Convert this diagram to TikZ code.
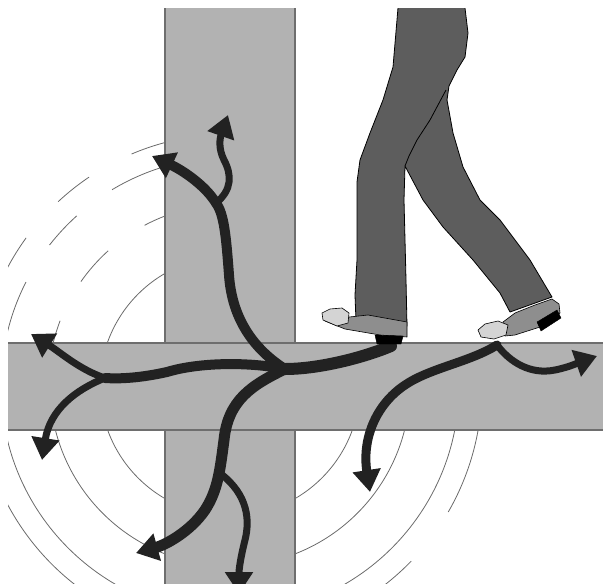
\documentclass[tikz,border=0pt]{standalone}
\usepackage{tikz}
\usetikzlibrary{arrows.meta, calc, positioning}
\definecolor{beamgray}{HTML}{B2B2B2}
\definecolor{beamedge}{HTML}{6E6E6E}
\definecolor{ripplegray}{HTML}{6A6A6A}
\definecolor{pantsgray}{HTML}{5D5D5D}
\definecolor{shoegray}{HTML}{8E8E8E}
\definecolor{toegray}{HTML}{D4D4D4}
\definecolor{flowblack}{HTML}{222222}
\tikzset
{%
beam/.style={fill=beamgray, draw=beamedge, line width=1.1pt},
ripple/.style={draw=ripplegray, line width=0.8pt},
trouser/.style={fill=pantsgray, draw=black, line width=0.8pt, line join=round},
shoe/.style={fill=shoegray, draw=black, line width=0.6pt, line join=round},
toecap/.style={fill=toegray, draw=black, line width=0.6pt, line join=round},
heelblock/.style={fill=black, draw=black, line width=0.4pt},
flow/.style={draw=flowblack, line width=#1, line cap=round,
	-{Triangle[length=22pt, width=27pt]}}
}
\begin{document}
\begin{tikzpicture}[x=1pt, y=-1pt]
	\useasboundingbox (0,0) rectangle (603,584);
	\clip (8,8) rectangle (603,584);

		% [RIPPLES]
		\coordinate (centre) at (230,386);
		% solid rings below the floor beam
		\foreach \r in {130,180,229}
			\draw[ripple] (centre) ++(0:\r) arc[start angle=0, end angle=180, radius=\r];
		\draw[ripple] (centre) ++(180:130) arc[start angle=180, end angle=270, radius=130];
		% broken rings
		\foreach \r/\a/\b in {182/188/201, 182/215/228, 182/242/256,
			229/188/207, 229/218/228, 229/239/256,
			252/200/216, 252/227/236, 252/247/258,
			252/5/30, 252/44/60, 252/120/160}
			\draw[ripple] (centre) ++(\a:\r) arc[start angle=\a, end angle=\b, radius=\r];

		% [BEAMS]
		\draw[beam] (165,-10) rectangle (295,600);
		\draw[beam] (-10,343) rectangle (620,430);

		% [ARROWS]
		\coordinate (heel) at (391,346);
		\coordinate (toe) at (497,345);
		\coordinate (hub) at (285,369);
		\coordinate (fork) at (105,378);
		\coordinate (knot) at (216,203);
		\coordinate (kink) at (221,474);

		% from the back foot
		\draw[flow=12pt, -] (heel) .. controls (365,357) and (320,369) .. (hub);
		\draw[flow=10pt] (hub) .. controls (255,350) and (232,320) .. (229,275)
			.. controls (226,235) and (224,214) .. (knot)
			.. controls (205,185) and (182,170) .. (152,156);
		\draw[flow=7pt] (knot) .. controls (232,190) and (232,175) .. (224,160)
			.. controls (218,148) and (220,138) .. (228,115);
		\draw[flow=10pt, -] (hub) .. controls (250,362) and (200,362) .. (167,372)
			.. controls (140,378) and (120,379) .. (fork);
		\draw[flow=7pt] (fork) .. controls (80,370) and (60,352) .. (31,334);
		\draw[flow=7pt] (fork) .. controls (75,390) and (50,410) .. (42,460);
		\draw[flow=11pt] (hub) .. controls (252,385) and (228,400) .. (224,440)
			.. controls (220,470) and (218,490) .. (205,510)
			.. controls (190,532) and (165,545) .. (136,553);
		\draw[flow=7pt] (kink) .. controls (248,495) and (250,520) .. (245,540)
			.. controls (240,560) and (239,570) .. (239,594);

		% from the front foot
		\draw[flow=9pt] (toe) .. controls (470,362) and (430,368) .. (405,385)
			.. controls (375,405) and (362,440) .. (370,492);
		\draw[flow=7pt] (toe) .. controls (510,362) and (530,375) .. (555,370)
			.. controls (570,367) and (580,362) .. (597,356);

		% [LEGS]
		\draw[trouser] (398,0) -- (398,8) -- (393,67) -- (383,100) -- (370,133)
			-- (360,160) -- (357,182) -- (357,260) -- (355,295) -- (356,321)
			-- (407,326) -- (406,280) -- (404,200) -- (405,166) -- (423,200)
			-- (443,227) -- (473,260) -- (500,293) -- (510,312) -- (552,297)
			-- (530,260) -- (500,220) -- (480,200) -- (463,167) -- (453,133)
			-- (447,100) -- (449,86) -- (457,70) -- (465,57) -- (468,33)
			-- (465,8) -- (465,0) -- cycle;
		\draw[black, line width=0.8pt] (405,166) -- (409,156) -- (417,140)
			-- (430,120) -- (446,90);

		% back shoe
		\draw[shoe] (340,318) -- (368,315) -- (407,322) -- (407,337)
			-- (380,335) -- (345,329) -- (325,321) -- cycle;
		\draw[toecap] (322,313) -- (330,309) -- (342,308) -- (349,313)
			-- (348,323) -- (337,326) -- (323,320) -- cycle;
		\draw[heelblock] (375,335) -- (403,336) -- (401,344) -- (377,344) -- cycle;

		% front shoe
		\draw[shoe] (503,322) -- (515,313) -- (535,305) -- (552,299) -- (559,304)
			-- (560,313) -- (540,327) -- (515,335) -- (505,336) -- cycle;
		\draw[toecap] (478,330) -- (485,324) -- (498,321) -- (508,325)
			-- (506,335) -- (494,339) -- (481,337) -- cycle;
		\draw[heelblock] (537,322) -- (557,310) -- (561,318) -- (541,331) -- cycle;
\end{tikzpicture}
\end{document}
